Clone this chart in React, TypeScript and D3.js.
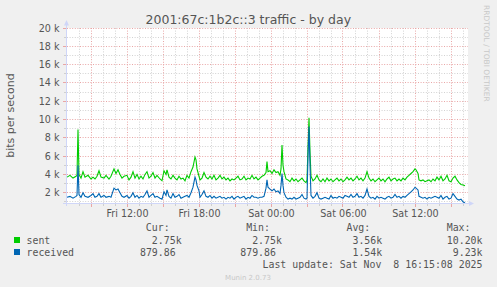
import React from "react";
import * as d3 from "d3";

// ---- data (5-minute steps from the window start, values in kbit/s) ----
const windowStartUtc = Date.UTC(2025, 10, 7, 7, 0, 0); // Fri 07:00
const windowSteps = 400;
const stepMinutes = 5;

const steps = [
  0, 3, 6, 9, 10, 11, 12, 14, 16, 18,
  21, 24, 26, 28, 30, 32, 34, 37, 39, 42,
  44, 47, 49, 51, 53, 55, 57, 60, 62, 64,
  66, 68, 70, 72, 74, 76, 78, 80, 82, 84,
  86, 88, 90, 93, 95, 97, 99, 100, 102, 104,
  106, 108, 110, 112, 114, 116, 118, 120, 122, 124,
  126, 128, 129, 130, 132, 133, 135, 137, 139, 141,
  143, 145, 147, 149, 151, 153, 155, 157, 159, 161,
  163, 165, 167, 169, 171, 173, 175, 177, 179, 181,
  183, 185, 187, 189, 191, 193, 195, 197, 199, 200,
  201, 203, 205, 207, 209, 211, 213, 214, 215, 216,
  217, 219, 221, 223, 225, 227, 229, 231, 233, 235,
  237, 239, 240, 241, 242, 243, 244, 246, 248, 250,
  252, 254, 256, 258, 260, 262, 264, 266, 268, 270,
  272, 274, 276, 278, 280, 282, 284, 286, 288, 290,
  292, 294, 296, 298, 300, 302, 304, 306, 308, 310,
  312, 314, 316, 318, 320, 322, 324, 326, 328, 330,
  332, 334, 336, 338, 340, 342, 344, 346, 348, 349,
  351, 352, 354, 356, 358, 360, 362, 364, 366, 368,
  370, 372, 374, 376, 378, 380, 382, 384, 386, 388,
  390, 392, 394, 396, 398,
];

const sentK = [
  3.7, 3.9, 3.6, 3.8, 3.9, 8.9, 4.0, 3.6, 4.3, 3.7,
  3.9, 3.5, 3.7, 3.5, 3.8, 4.4, 3.7, 3.6, 3.9, 3.5,
  3.8, 4.6, 4.1, 4.5, 4.0, 3.6, 3.8, 3.9, 3.4, 3.7,
  4.3, 3.6, 4.0, 3.5, 3.8, 3.5, 4.0, 4.3, 3.6, 3.8,
  4.2, 3.6, 3.9, 3.5, 3.3, 4.4, 4.0, 4.5, 3.7, 3.5,
  3.9, 3.6, 3.4, 3.8, 3.5, 3.6, 3.3, 3.9, 3.6, 4.3,
  4.8, 5.9, 5.6, 4.6, 3.8, 3.4, 3.6, 4.2, 3.7, 3.5,
  3.8, 3.5, 3.9, 3.4, 3.6, 3.9, 3.5, 3.7, 3.4, 3.6,
  3.3, 3.5, 3.4, 3.6, 3.8, 3.4, 3.5, 3.8, 3.4, 3.6,
  3.5, 3.9, 3.5, 3.7, 3.4, 3.6, 3.8, 3.9, 4.2, 5.4,
  4.3, 4.4, 4.1, 4.5, 4.2, 4.3, 3.9, 4.6, 7.2, 5.0,
  4.3, 3.5, 3.4, 3.2, 3.6, 3.3, 3.5, 3.2, 3.4, 3.6,
  3.3, 3.1, 3.4, 7.0, 10.2, 6.5, 3.8, 3.3, 3.5, 3.9,
  3.4, 3.2, 3.5, 3.2, 3.6, 3.3, 3.5, 3.2, 3.4, 3.6,
  3.3, 3.5, 3.2, 3.4, 3.7, 3.4, 3.6, 3.3, 3.5, 3.8,
  3.4, 3.6, 3.3, 3.6, 4.3, 3.6, 3.3, 3.5, 3.2, 3.4,
  3.6, 3.3, 3.5, 3.2, 3.5, 3.7, 3.3, 3.5, 3.6, 3.3,
  3.5, 3.3, 3.6, 3.4, 3.7, 3.9, 4.1, 4.3, 4.6, 4.5,
  4.1, 3.4, 3.3, 3.4, 3.2, 3.3, 3.4, 3.2, 3.5, 3.3,
  3.7, 3.4, 3.8, 3.3, 3.5, 3.9, 3.3, 3.2, 3.6, 3.8,
  3.4, 3.1, 2.9, 2.85, 2.75,
];

const receivedK = [
  1.5, 1.6, 1.4, 1.6, 1.7, 5.0, 1.8, 1.5, 2.0, 1.6,
  1.5, 1.7, 1.9, 1.5, 1.6, 1.9, 1.5, 1.7, 1.5, 1.6,
  1.5, 2.5, 2.3, 2.4, 2.0, 1.6, 1.5, 1.7, 1.4, 1.6,
  2.0, 1.5, 1.7, 1.4, 1.6, 1.5, 1.8, 2.2, 1.5, 1.7,
  1.9, 1.5, 1.6, 1.4, 1.3, 2.1, 1.7, 2.3, 1.6, 1.4,
  1.9, 1.5, 1.6, 1.8, 1.4, 1.5, 1.6, 1.7, 1.5, 2.0,
  2.6, 3.7, 3.4, 2.8, 2.2, 1.5, 1.8, 2.2, 1.6, 1.5,
  1.7, 1.4, 1.6, 1.4, 1.5, 1.6, 1.4, 1.5, 1.3, 1.5,
  1.4, 1.6, 1.3, 1.5, 1.6, 1.4, 1.5, 1.6, 1.3, 1.5,
  1.4, 1.7, 1.5, 1.5, 1.4, 1.5, 1.5, 1.6, 2.5, 3.4,
  2.6, 2.4, 2.2, 2.4, 2.1, 2.2, 1.9, 2.8, 4.1, 2.8,
  2.0, 1.5, 1.3, 1.4, 1.3, 1.5, 1.3, 1.4, 1.5, 1.8,
  1.4, 1.3, 1.4, 6.0, 9.23, 5.0, 1.7, 1.4, 1.6, 2.0,
  1.4, 1.3, 1.4, 1.5, 1.4, 1.3, 1.7, 1.4, 1.5, 1.4,
  1.6, 1.5, 1.4, 1.7, 1.6, 1.5, 1.8, 1.5, 1.6, 1.9,
  1.5, 1.6, 1.4, 1.7, 2.4, 1.6, 1.4, 1.5, 1.3, 1.6,
  1.4, 1.5, 1.4, 1.3, 1.5, 1.6, 1.4, 1.5, 1.8, 1.5,
  1.6, 1.4, 1.6, 1.5, 1.7, 1.9, 2.1, 2.3, 2.6, 2.5,
  2.3, 1.6, 1.5, 1.4, 1.5, 1.3, 1.5, 1.4, 1.5, 1.6,
  1.5, 1.4, 1.7, 1.3, 1.5, 1.6, 1.3, 1.4, 1.9, 1.6,
  1.3, 1.2, 1.3, 1.0, 0.88,
];

const seriesNames = ["sent", "received"];
const seriesColors = ["#00CC00", "#0066B3"];
const legendHeaders = ["Cur:", "Min:", "Avg:", "Max:"];
const sentStats = ["2.75k", "2.75k", "3.56k", "10.20k"];
const receivedStats = ["879.86", "879.86", "1.54k", "9.23k"];
const yTickValues = [2000, 4000, 6000, 8000, 10000, 12000, 14000, 16000, 18000, 20000];
const titleText = "2001:67c:1b2c::3 traffic - by day";
const yLabel = "bits per second";
const lastUpdate = "Last update: Sat Nov  8 16:15:08 2025";
const footer = "Munin 2.0.73";
const sideText = "RRDTOOL / TOBI OETIKER";

// ---- layout ----
const W = 497;
const H = 287;
const PL = 67;
const PR = 467;
const PT = 28;
const PB = 203.5;
const FONT = "DejaVu Sans, sans-serif";
const MONO = "DejaVu Sans Mono, monospace";
const TEXT = "#555555";

export default function App() {
  const start = new Date(windowStartUtc);
  const end = new Date(windowStartUtc + windowSteps * stepMinutes * 60000);
  const x = d3.scaleUtc().domain([start, end]).range([PL, PR]);
  const y = d3.scaleLinear().domain([820, 20000]).range([PB, PT]);
  const t = (s: number) => new Date(windowStartUtc + s * stepMinutes * 60000);

  const sentData = steps.map((s, i) => ({ t: t(s), v: sentK[i] * 1000 }));
  const recvData = steps.map((s, i) => ({ t: t(s), v: receivedK[i] * 1000 }));
  const line = d3
    .line<{ t: Date; v: number }>()
    .x((d) => x(d.t))
    .y((d) => y(d.v));

  const px = (v: number) => Math.floor(v) + 0.5;

  const minorH = d3.range(1000, 20001, 1000).filter((v) => v % 2000 !== 0);
  const hours = d3.utcHour.every(1)!.range(start, end).filter((d) => +d > +start);
  const minorV = hours.filter((d) => d.getUTCHours() % 3 !== 0);
  const majorV = hours.filter((d) => d.getUTCHours() % 3 === 0);
  const labelTicks = hours.filter((d) => d.getUTCHours() % 6 === 0);
  const fmt = d3.utcFormat("%a %H:%M");

  const charW = 5.96;
  const colRight = [181.6, 281.9, 382.2, 482.5];

  return (
    <div style={{ position: "fixed", left: 0, top: 0 }}>
      <svg width={W} height={H} style={{ display: "block" }}>
        <rect x={0} y={0} width={W} height={H} fill="#F0F0F0" />
        <rect x={PL} y={PT} width={PR - PL + 1} height={PB - PT} fill="#FFFFFF" />

        {/* minor grid */}
        {minorH.map((v) => (
          <line key={"mh" + v} x1={PL} x2={PR + 1} y1={px(y(v))} y2={px(y(v))}
            stroke="#D2D2D2" strokeWidth={1} strokeDasharray="1,1.6" />
        ))}
        {minorV.map((d) => (
          <line key={"mv" + +d} x1={px(x(d))} x2={px(x(d))} y1={PT} y2={PB}
            stroke="#D2D2D2" strokeWidth={1} strokeDasharray="1,1.6" />
        ))}
        {/* major grid */}
        {yTickValues.map((v) => (
          <line key={"Mh" + v} x1={PL} x2={PR + 1} y1={px(y(v))} y2={px(y(v))}
            stroke="#E9A6A6" strokeWidth={1} strokeDasharray="1,1.6" />
        ))}
        {majorV.map((d) => (
          <line key={"Mv" + +d} x1={px(x(d))} x2={px(x(d))} y1={PT} y2={PB}
            stroke="#E9A6A6" strokeWidth={1} strokeDasharray="1,1.6" />
        ))}

        {/* axis ticks */}
        {minorH.map((v) => (
          <line key={"ty" + v} x1={64} x2={67} y1={px(y(v))} y2={px(y(v))} stroke="#CFCFCF" />
        ))}
        {yTickValues.map((v) => (
          <line key={"tY" + v} x1={63} x2={67} y1={px(y(v))} y2={px(y(v))} stroke="#E9A6A6" />
        ))}
        {minorV.map((d) => (
          <line key={"tx" + +d} x1={px(x(d))} x2={px(x(d))} y1={203} y2={206} stroke="#CFCFCF" />
        ))}
        {majorV.map((d) => (
          <line key={"tX" + +d} x1={px(x(d))} x2={px(x(d))} y1={203} y2={207} stroke="#E9A6A6" />
        ))}

        {/* series */}
        <path d={line(sentData) ?? ""} fill="none" stroke={seriesColors[0]} strokeWidth={1.1} />
        <path d={line(recvData) ?? ""} fill="none" stroke={seriesColors[1]} strokeWidth={1.1} />

        {/* axes */}
        <line x1={66.5} x2={66.5} y1={206} y2={24} stroke="#CFD6F8" />
        <polygon points="64,25.5 69,25.5 66.5,20" fill="#CFD6F8" />
        <line x1={63} x2={470} y1={PB} y2={PB} stroke="#CFD6F8" />
        <polygon points="469,201 469,206 474,203.5" fill="#CFD6F8" />

        {/* y tick labels */}
        {yTickValues.map((v) => (
          <text key={"yl" + v} x={59.5} y={px(y(v)) + 3.4} textAnchor="end"
            fontFamily={FONT} fontSize={9.6} fill={TEXT}>
            {`${v / 1000} k`}
          </text>
        ))}
        {/* x tick labels */}
        {labelTicks.map((d) => (
          <text key={"xl" + +d} x={x(d) + 0.5} y={216.5} textAnchor="middle"
            fontFamily={FONT} fontSize={9.6} fill={TEXT}>
            {fmt(d)}
          </text>
        ))}

        {/* title */}
        <text x={248.3} y={23.5} textAnchor="middle" fontFamily={FONT} fontSize={12.5}
          fill={TEXT}>
          {titleText}
        </text>
        {/* y label */}
        <text transform="translate(14,115.5) rotate(-90)" textAnchor="middle"
          fontFamily={FONT} fontSize={11} fill={TEXT}>
          {yLabel}
        </text>
        {/* side text */}
        <text transform="translate(483.5,5) rotate(90)" textAnchor="start"
          fontFamily={FONT} fontSize={7.5} fill="#C8C8C8">
          {sideText}
        </text>

        {/* legend */}
        {legendHeaders.map((h, i) => (
          <text key={"h" + i} x={colRight[i] - 6 * charW} y={231} fontFamily={MONO}
            fontSize={9.9} fill={TEXT}>
            {h}
          </text>
        ))}
        {[sentStats, receivedStats].map((row, r) => (
          <g key={"row" + r}>
            <rect x={14} y={237 + r * 12} width={6} height={6} fill={seriesColors[r]} />
            <text x={26.5} y={243.5 + r * 12} fontFamily={MONO} fontSize={9.9} fill={TEXT}>
              {seriesNames[r]}
            </text>
            {row.map((s, i) => {
              const hasUnit = /[a-zA-Z]$/.test(s);
              return (
                <text key={"v" + i} x={colRight[i] - (hasUnit ? 0 : charW)} y={243.5 + r * 12}
                  textAnchor="end" fontFamily={MONO} fontSize={9.9} fill={TEXT}>
                  {s}
                </text>
              );
            })}
          </g>
        ))}
        <text x={482.5} y={267.5} textAnchor="end" fontFamily={MONO} fontSize={9.9}
          fill={TEXT} style={{ whiteSpace: "pre" }}>
          {lastUpdate}
        </text>
        <text x={248} y={279.5} textAnchor="middle" fontFamily={FONT} fontSize={7}
          fill="#C8C8C8">
          {footer}
        </text>
      </svg>
    </div>
  );
}
